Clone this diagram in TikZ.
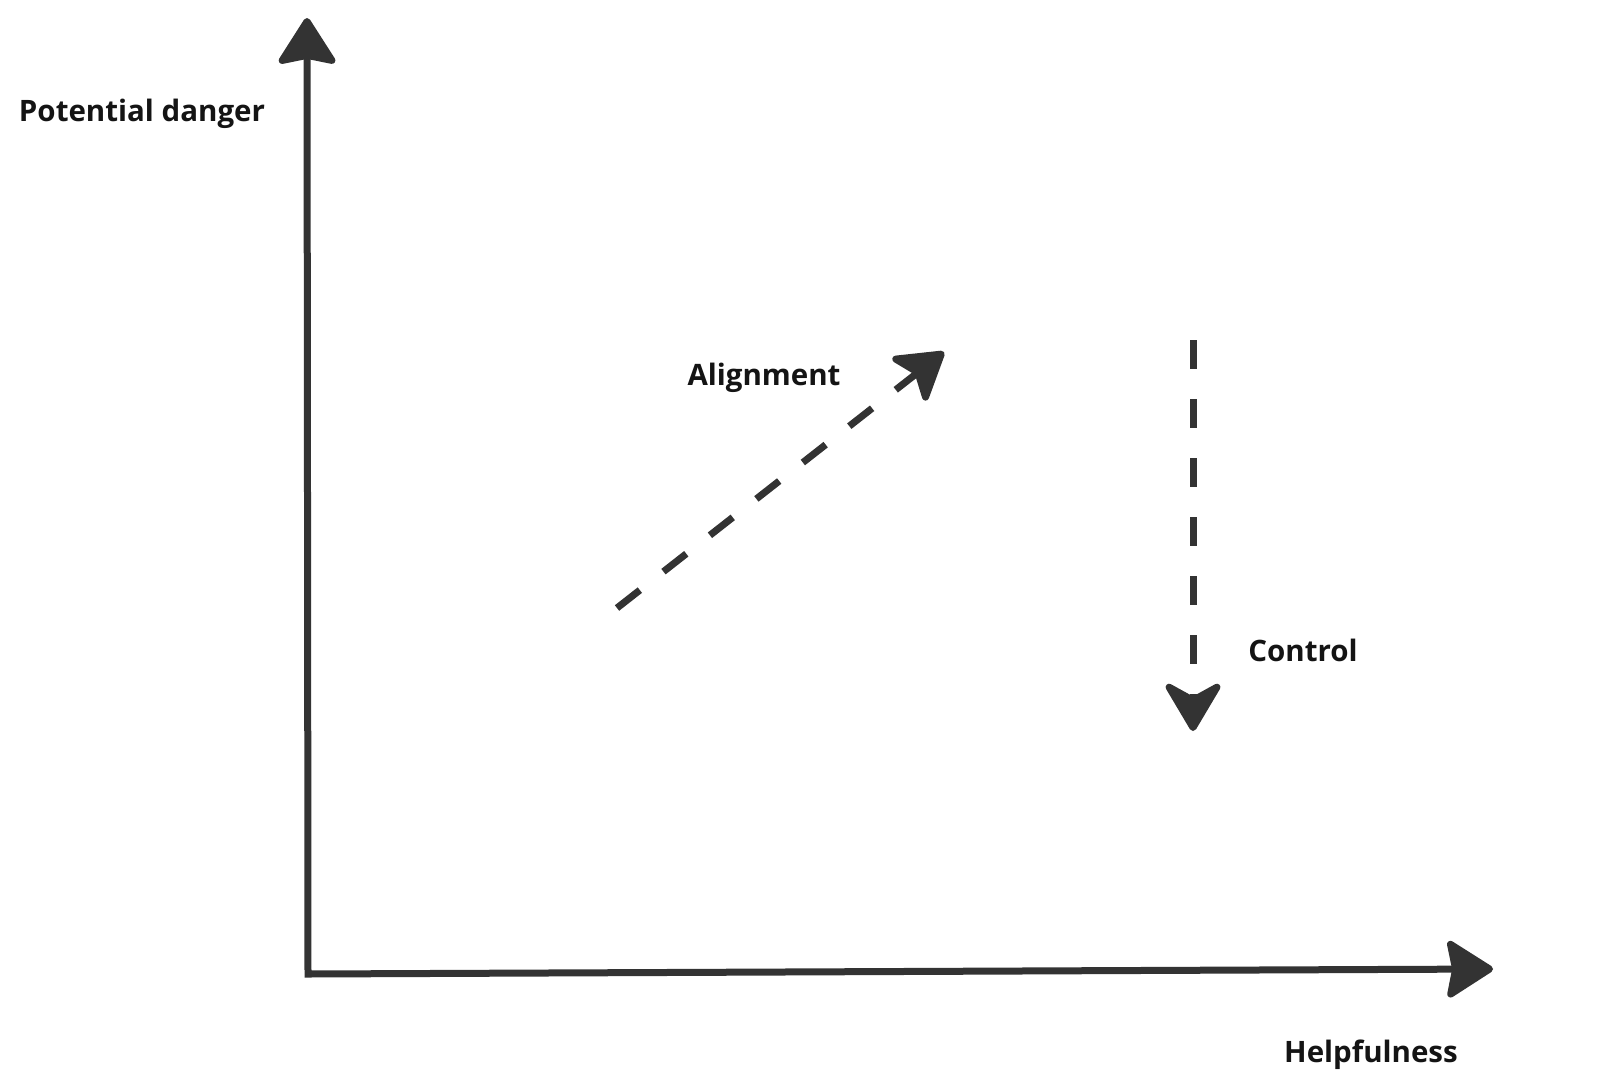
\documentclass[tikz,border=0pt]{standalone}
\usepackage{fontspec}
\setmainfont{Open Sans}
\usetikzlibrary{arrows.meta}
\definecolor{ink}{HTML}{333333}
\definecolor{txt}{HTML}{141414}
\tikzset{
  axistip/.tip={Stealth[length=50pt, width=63pt, inset=6pt, round]},
  aligntip/.tip={Stealth[length=52pt, width=64pt, inset=12pt, round]},
  ctrltip/.tip={Stealth[length=56pt, width=66pt, inset=18pt, round]},
  axisline/.style={draw=ink, line width=7pt, line join=miter},
  dashline/.style={draw=ink, line width=7pt, dash pattern=on 29pt off 30pt},
  lbl/.style={text=txt, font=\fontsize{29.5}{34}\selectfont\bfseries, inner sep=0pt}
}
\begin{document}
\begin{tikzpicture}[x=1pt,y=-1pt]
\useasboundingbox[fill=white] (0,0) rectangle (1600,1079);
\coordinate (ytip) at (307,18);
\coordinate (origin) at (308,974);
\coordinate (xtip) at (1493,969);
\draw[axisline, axistip-axistip] (ytip) -- (origin) -- (xtip);

\coordinate (astart) at (617,608);
\coordinate (aend) at (944,352);
\draw[dashline, -aligntip] (astart) -- (aend);

\coordinate (cstart) at (1193,340);
\coordinate (cend) at (1193,731);
\draw[dashline, -ctrltip] (cstart) -- (cend);

\node[lbl] (danger) at (142,114) {Potential danger};
\node[lbl] (help) at (1371,1055) {Helpfulness};
\node[lbl] (align) at (764,378) {Alignment};
\node[lbl] (ctrl) at (1303,650) {Control};
\end{tikzpicture}
\end{document}
